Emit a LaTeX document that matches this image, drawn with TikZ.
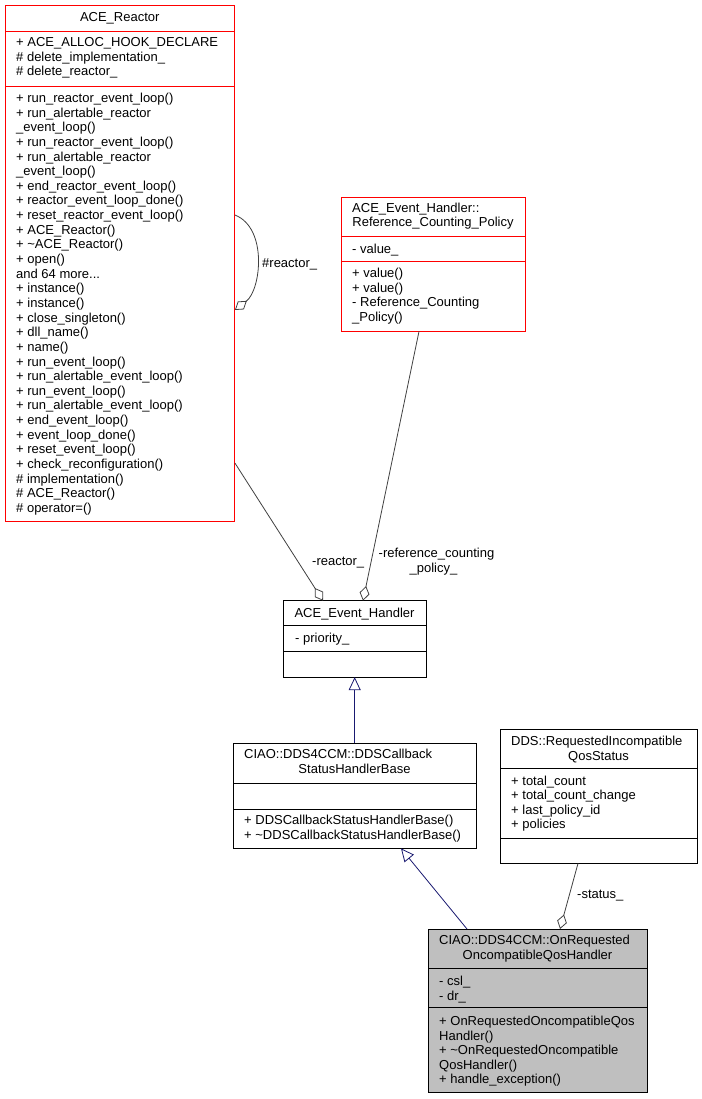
\documentclass[tikz,border=0pt]{standalone}
\usepackage{fontspec}
\setmainfont{Liberation Sans}
\usetikzlibrary{arrows.meta}
\definecolor{midnight}{RGB}{25,25,112}
\definecolor{edgegray}{RGB}{64,64,64}
\definecolor{warnred}{RGB}{255,0,0}
\tikzset{
  cls/.style={fill=white, inner sep=0pt, anchor=north west},
  frame/.style={draw=#1, line width=0.9pt},
  frame/.default=black,
  member/.style={anchor=base west, inner sep=0pt, font=\fontsize{13}{14.6}\selectfont},
  ctitle/.style={member, anchor=base},
  agg/.style={edgegray, line width=0.8pt, -{Diamond[open, length=15pt, width=10pt]}},
  inh/.style={midnight, line width=0.8pt, -{Triangle[open, length=13pt, width=12pt]}},
}
\begin{document}
\begin{tikzpicture}[x=1pt, y=-1pt]
\useasboundingbox (0,0) rectangle (701,1099);
% ACE_Reactor
\node[cls, minimum width=229.5pt, minimum height=516pt] (reactor) at (5,5) {};
\draw[frame=warnred] (reactor.north west) rectangle (reactor.south east) (5,31)--(234.5,31) (5,86)--(234.5,86);
\node[ctitle] (reactorname) at (119.75,22) {ACE\_Reactor};
\foreach \a [count=\i] in {+ ACE\_ALLOC\_HOOK\_DECLARE, \# delete\_implementation\_, \# delete\_reactor\_}
  \node[member, name=ra\i] at (16, 32+14.6*\i) {\a};
\foreach \m [count=\i] in {+ run\_reactor\_event\_loop(), + run\_alertable\_reactor, \_event\_loop(),
    + run\_reactor\_event\_loop(), + run\_alertable\_reactor, \_event\_loop(), + end\_reactor\_event\_loop(),
    + reactor\_event\_loop\_done(), + reset\_reactor\_event\_loop(), + ACE\_Reactor(), + \textasciitilde ACE\_Reactor(),
    + open(), and 64 more.{}.{}., + instance(), + instance(), + close\_singleton(), + dll\_name(), + name(),
    + run\_event\_loop(), + run\_alertable\_event\_loop(), + run\_event\_loop(), + run\_alertable\_event\_loop(),
    + end\_event\_loop(), + event\_loop\_done(), + reset\_event\_loop(), + check\_reconfiguration(),
    \# implementation(), \# ACE\_Reactor(), \# operator=()}
  \node[member, name=rm\i] at (16, 87.86+14.64*\i) {\m};
% Reference_Counting_Policy
\node[cls, minimum width=184pt, minimum height=134pt] (rcp) at (341,197) {};
\draw[frame=warnred] (rcp.north west) rectangle (rcp.south east) (341,236.7)--(525,236.7) (341,261.7)--(525,261.7);
\node[member] (rcpname1) at (352,212.5) {ACE\_Event\_Handler::};
\node[ctitle] (rcpname2) at (433,227) {Reference\_Counting\_Policy};
\node[member] (rcpa1) at (352,253.5) {- value\_};
\foreach \m [count=\i] in {+ value(), + value(), - Reference\_Counting, \_Policy()}
  \node[member, name=rcpm\i] at (352, 262.9+14.6*\i) {\m};
% ACE_Event_Handler
\node[cls, minimum width=143pt, minimum height=76pt] (evh) at (283,600.7) {};
\draw[frame] (evh.north west) rectangle (evh.south east) (283,625.7)--(426,625.7) (283,651.7)--(426,651.7);
\node[ctitle] (evhname) at (354.5,617) {ACE\_Event\_Handler};
\node[member] (evha1) at (295,642) {- priority\_};
% DDSCallbackStatusHandlerBase
\node[cls, minimum width=243pt, minimum height=105pt] (ddscb) at (233,743) {};
\draw[frame] (ddscb.north west) rectangle (ddscb.south east) (233,783)--(476,783) (233,809)--(476,809);
\node[member] (cbname1) at (244,758.5) {CIAO::DDS4CCM::DDSCallback};
\node[ctitle] (cbname2) at (354.5,773.1) {StatusHandlerBase};
\node[member] (cbm1) at (244,824.5) {+ DDSCallbackStatusHandlerBase()};
\node[member] (cbm2) at (244,839) {+ \textasciitilde DDSCallbackStatusHandlerBase()};
% RequestedIncompatibleQosStatus
\node[cls, minimum width=197pt, minimum height=134pt] (dds) at (500,729) {};
\draw[frame] (dds.north west) rectangle (dds.south east) (500,768)--(697,768) (500,838)--(697,838);
\node[member] (ddsname1) at (511,745.5) {DDS::RequestedIncompatible};
\node[ctitle] (ddsname2) at (598.5,760) {QosStatus};
\foreach \a [count=\i] in {+ total\_count, + total\_count\_change, + last\_policy\_id, + policies}
  \node[member, name=ddsa\i] at (511, 770.4+14.6*\i) {\a};
% OnRequestedOncompatibleQosHandler
\node[cls, fill=black!25, minimum width=219pt, minimum height=163pt] (onreq) at (428,929) {};
\draw[frame] (onreq.north west) rectangle (onreq.south east) (428,968)--(647,968) (428,1007)--(647,1007);
\node[member] (orname1) at (439,944.5) {CIAO::DDS4CCM::OnRequested};
\node[ctitle] (orname2) at (537.5,959) {OncompatibleQosHandler};
\node[member] (ora1) at (439,985.5) {- csl\_};
\node[member] (ora2) at (439,1000) {- dr\_};
\foreach \m [count=\i] in {+ OnRequestedOncompatibleQos, Handler(), + \textasciitilde OnRequestedOncompatible,
    QosHandler(), + handle\_exception()}
  \node[member, name=orm\i] at (439, 1011+14.5*\i) {\m};
% connectors
\draw[agg] ([yshift=-210pt]reactor.north east) .. controls (268,228) and (261,290) .. ([yshift=-305pt]reactor.north east);
\node[member] (lselfreactor) at (262,267.5) {\#reactor\_};
\draw[agg] ([yshift=-458pt]reactor.north east) -- ([xshift=40pt]evh.north west);
\node[member] (lreactor) at (312,565.5) {-reactor\_};
\draw[agg] ([xshift=78pt]rcp.south west) -- ([xshift=80pt]evh.north west);
\node[ctitle] (lpolicy1) at (436.5,557.5) {-reference\_counting};
\node[ctitle] (lpolicy2) at (433.5,572.5) {\_policy\_};
\draw[inh] (ddscb.north) -- (evh.south);
\draw[inh] ([xshift=39pt]onreq.north west) -- ([xshift=168pt]ddscb.south west);
\draw[agg] ([xshift=78pt]dds.south west) -- ([xshift=132pt]onreq.north west);
\node[member] (lstatus) at (577,898.5) {-status\_};
\end{tikzpicture}
\end{document}
